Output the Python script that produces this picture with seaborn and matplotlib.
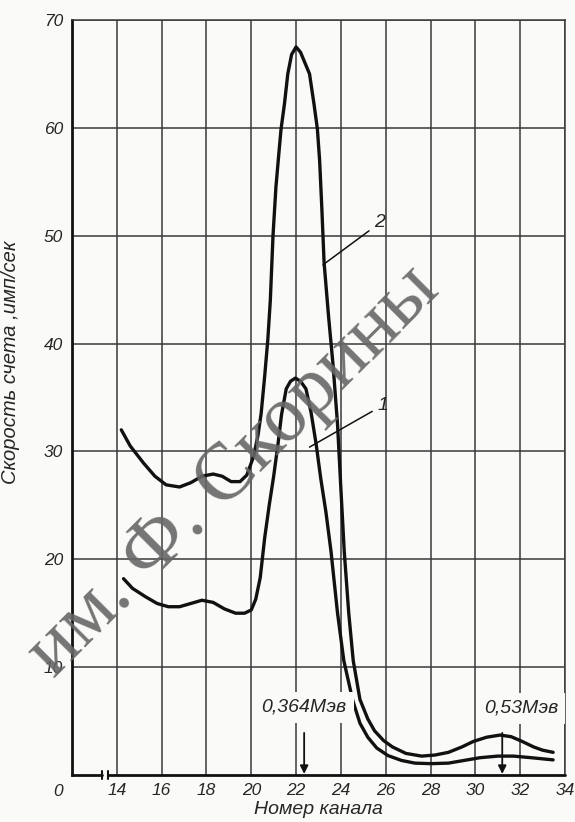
import matplotlib
matplotlib.use("Agg")
import matplotlib.pyplot as plt
import numpy as np
import pandas as pd
import seaborn as sns

# values (channel number, count rate imp/sec)
curve1_channel = [14.3, 14.7, 15.3, 15.8, 16.3, 16.8, 17.3, 17.8, 18.3, 18.8, 19.3, 19.7,
                  20.0, 20.2, 20.4, 20.6, 20.8, 21.0, 21.2, 21.35, 21.56, 21.75, 21.97,
                  22.2, 22.44, 22.67, 22.9, 23.1, 23.33, 23.56, 23.85, 24.13, 24.53, 24.85,
                  25.2, 25.6, 26.1, 26.7, 27.3, 28.0, 28.8, 29.5, 30.2, 31.0, 31.7, 32.5, 33.47]
curve1_rate = [18.2, 17.3, 16.5, 15.9, 15.6, 15.6, 15.9, 16.2, 16.0, 15.4, 15.0, 15.0,
               15.3, 16.3, 18.3, 22.0, 25.0, 27.7, 30.8, 33.4, 35.8, 36.5, 36.8,
               36.5, 35.8, 33.6, 30.6, 27.5, 24.4, 20.7, 15.0, 10.6, 6.9, 4.8,
               3.5, 2.5, 1.8, 1.35, 1.1, 1.05, 1.1, 1.35, 1.6, 1.75, 1.75, 1.6, 1.4]

curve2_channel = [14.2, 14.6, 15.2, 15.7, 16.2, 16.8, 17.3, 17.8, 18.3, 18.7, 19.1, 19.5,
                  19.8, 20.1, 20.3, 20.44, 20.6, 20.74, 20.85, 20.97, 21.1, 21.23, 21.33,
                  21.48, 21.63, 21.8, 22.0, 22.2, 22.4, 22.6, 22.8, 22.95, 23.05, 23.15,
                  23.25, 23.45, 23.65, 23.85, 24.0, 24.15, 24.35, 24.55, 24.85, 25.2, 25.5,
                  25.9, 26.3, 26.9, 27.6, 28.2, 28.8, 29.4, 29.9, 30.5, 31.1, 31.6, 32.1,
                  32.6, 33.0, 33.47]
curve2_rate = [32.0, 30.5, 28.9, 27.7, 26.9, 26.7, 27.1, 27.7, 27.9, 27.7, 27.2, 27.2,
               27.8, 29.5, 31.5, 33.5, 37.0, 40.4, 44.0, 50.0, 54.5, 57.6, 59.9,
               62.2, 65.0, 66.8, 67.5, 67.0, 66.0, 65.0, 62.2, 59.9, 57.0, 52.5,
               47.5, 42.5, 38.0, 32.5, 26.5, 20.7, 15.0, 10.6, 7.0, 5.2, 4.1,
               3.2, 2.6, 2.0, 1.75, 1.85, 2.1, 2.6, 3.1, 3.5, 3.7, 3.55, 3.1,
               2.6, 2.3, 2.1]

x_ticks = [14, 16, 18, 20, 22, 24, 26, 28, 30, 32, 34]
y_ticks = [10, 20, 30, 40, 50, 60, 70]

peak_labels = ["0,364Мэв", "0,53Мэв"]
peak_channels = [22.36, 31.2]
peak_label_pos = [(22.36, 6.3), (32.05, 6.2)]

curve_labels = ["1", "2"]
curve_label_text = [(25.65, 34.3), (25.5, 51.2)]
curve_label_tip = [(22.6, 30.4), (23.2, 47.3)]

df = pd.concat([
    pd.DataFrame({"channel": curve1_channel, "rate": curve1_rate, "curve": "1"}),
    pd.DataFrame({"channel": curve2_channel, "rate": curve2_rate, "curve": "2"}),
])

sns.set_style("white")
plt.rcParams["font.family"] = ["Liberation Sans", "DejaVu Sans"]
plt.rcParams["font.style"] = "italic"

fig = plt.figure(figsize=(5.75, 8.22), dpi=100, facecolor="#fafaf8")
ax = fig.add_axes([0.1252, 0.0572, 0.8574, 0.9185])
ax.set_facecolor("#fafaf8")

sns.lineplot(data=df, x="channel", y="rate", hue="curve", palette=["#111111", "#111111"],
             estimator=None, sort=False, legend=False, lw=2.4, ax=ax)

ax.set_xlim(12, 34)
ax.set_ylim(0, 70)
ax.set_xticks(x_ticks)
ax.set_yticks(y_ticks)
ax.set_xticklabels([str(t) for t in x_ticks], fontsize=12.5)
ax.set_yticklabels([str(t) for t in y_ticks], fontsize=12.5)
ax.tick_params(axis="x", length=0, pad=6)
ax.tick_params(axis="y", length=0, pad=6.5)
ax.grid(True, color="#3a3a3a", lw=1.1)
ax.set_axisbelow(True)

for side in ["top", "right"]:
    ax.spines[side].set_color("#3a3a3a")
    ax.spines[side].set_linewidth(1.1)
ax.spines["left"].set_color("#111111")
ax.spines["left"].set_linewidth(2.0)
ax.spines["bottom"].set_visible(False)

# bottom axis with a break between 0 and 14
ax.plot([12, 13.35], [0, 0], color="#111111", lw=2.0, clip_on=False, zorder=4)
ax.plot([13.6, 34], [0, 0], color="#111111", lw=2.0, clip_on=False, zorder=4)
for bx in [13.35, 13.6]:
    ax.plot([bx, bx], [-0.4, 0.4], color="#111111", lw=1.5, clip_on=False, zorder=4)

ax.annotate("0", xy=(0, 0), xycoords="axes fraction", xytext=(-10, -12),
            textcoords="offset points", ha="center", va="center", fontsize=12.5)

ax.set_xlabel("Номер канала", fontsize=14, labelpad=0)
ax.set_ylabel("Скорость счета ,имп/сек", fontsize=14.5)
ax.xaxis.set_label_coords(0.499, -0.0345)
ax.yaxis.set_label_coords(-0.105, 0.546)

for label, ch, (tx, ty) in zip(peak_labels, peak_channels, peak_label_pos):
    ax.text(tx, ty, label, ha="center", va="center", fontsize=14, zorder=3,
            bbox=dict(facecolor="#fafaf8", edgecolor="none", pad=5))
    ax.annotate("", xy=(ch, 0.1), xytext=(ch, 3.9),
                arrowprops=dict(arrowstyle="-|>", color="#111111", lw=1.3,
                                mutation_scale=12, shrinkA=0, shrinkB=0), zorder=5)

for label, (tx, ty), tip in zip(curve_labels, curve_label_text, curve_label_tip):
    ax.annotate(label, xy=tip, xytext=(tx, ty), ha="left", va="center", fontsize=14,
                arrowprops=dict(arrowstyle="-", color="#111111", lw=1.1,
                                shrinkA=2, shrinkB=0))

# library stamp across the scan
fig.text(0.43, 0.41, "им. Ф. Скорины", rotation=45, rotation_mode="anchor",
         ha="center", va="baseline", fontsize=58, color="#666666", alpha=0.9,
         family="Liberation Serif", style="normal", zorder=10)

fig.savefig("out.png", dpi=100, facecolor=fig.get_facecolor())
